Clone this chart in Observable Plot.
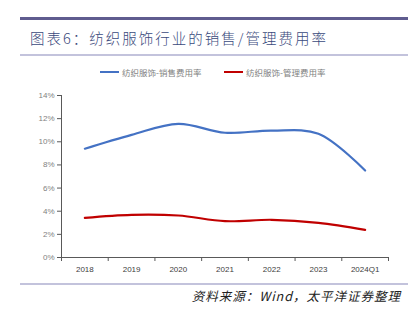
<!DOCTYPE html>
<html><head><meta charset="utf-8">
<script src="https://cdn.jsdelivr.net/npm/d3@7"></script>
<script src="https://cdn.jsdelivr.net/npm/@observablehq/plot@0.6"></script>
<style>
body{margin:0;width:413px;height:322px;position:relative;background:#fff;font-family:"Noto Sans CJK SC","Noto Sans",sans-serif;overflow:hidden}
.rule{position:absolute;left:20px;width:388px}
#title{position:absolute;left:30px;top:27px;font-size:14.5px;color:#3a4a7c;letter-spacing:2px;white-space:nowrap;font-weight:300}
#legend{position:absolute;top:66px;left:0;width:413px;font-size:8.5px;color:#7f7f7f;white-space:nowrap}
#legend span{position:absolute;display:flex;align-items:center}
#legend i{display:inline-block;width:19px;height:2px;margin-right:3px}
#caption{position:absolute;right:12px;top:286px;font-size:12.5px;font-style:italic;color:#222;white-space:nowrap;letter-spacing:1px}
#chart{position:absolute;left:0;top:85px}
</style></head>
<body>
<div class="rule" style="top:17px;height:3px;background:#5f5c8f"></div>
<div id="title">图表6：纺织服饰行业的销售/管理费用率</div>
<div class="rule" style="top:54px;height:2px;background:#c3c3dc"></div>
<div id="legend"></div>
<div id="chart"></div>
<div class="rule" style="top:283px;height:2px;background:#c3c3dc"></div>
<div id="caption">资料来源：Wind，太平洋证券整理</div>
<script>
const categories = ["2018","2019","2020","2021","2022","2023","2024Q1"];
const salesRate = [0.094, 0.106, 0.1155, 0.1078, 0.1097, 0.1069, 0.0752];
const adminRate = [0.0343, 0.0369, 0.0363, 0.0314, 0.0326, 0.030, 0.0239];
const seriesNames = ["纺织服饰-销售费用率", "纺织服饰-管理费用率"];
const seriesColors = ["#4472c4", "#c00000"];
const yTicks = [0, 0.02, 0.04, 0.06, 0.08, 0.10, 0.12, 0.14];

const data = [];
categories.forEach((c, i) => {
  data.push({i, cat: c, v: salesRate[i], s: seriesNames[0]});
  data.push({i, cat: c, v: adminRate[i], s: seriesNames[1]});
});
const idx = categories.map((_, i) => i);
const bounds = d3.range(categories.length + 1).map(i => i - 0.5);

const chart = Plot.plot({
  width: 413, height: 195,
  marginLeft: 61, marginRight: 25, marginTop: 10, marginBottom: 23,
  style: {fontFamily: "Liberation Sans, Arial, sans-serif", fontSize: "8px", color: "#595959", background: "transparent"},
  x: {type: "linear", domain: [-0.5, categories.length - 0.5]},
  y: {domain: [0, 0.14]},
  color: {domain: seriesNames, range: seriesColors},
  marks: [
    Plot.axisY({ticks: yTicks, tickFormat: d3.format(".0%"), tickSize: 4, tickPadding: 3, stroke: "#595959", color: "#7f7f7f", label: null}),
    Plot.axisX({ticks: bounds, tickFormat: () => "", tickSize: 4, stroke: "#595959", label: null}),
    Plot.axisX({ticks: idx, tickFormat: i => categories[i], tickSize: 0, tickPadding: 9, color: "#404040", label: null}),
    Plot.ruleX([-0.5], {stroke: "#595959"}),
    Plot.ruleY([0], {stroke: "#595959"}),
    Plot.line(data, {x: "i", y: "v", z: "s", stroke: "s", strokeWidth: 2.2, curve: "catmull-rom"})
  ]
});
document.getElementById("chart").appendChild(chart);

const legend = document.getElementById("legend");
const lx = [100, 224];
seriesNames.forEach((n, k) => {
  const s = document.createElement("span");
  s.style.left = lx[k] + "px";
  s.innerHTML = `<i style="background:${seriesColors[k]}"></i>${n}`;
  legend.appendChild(s);
});
</script>
</body></html>
